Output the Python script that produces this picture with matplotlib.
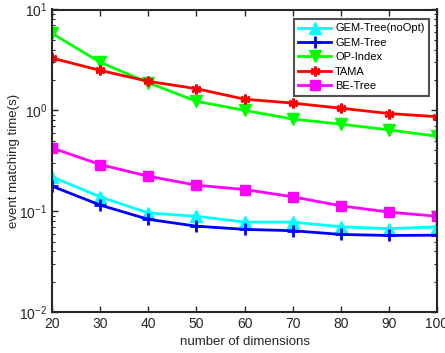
import matplotlib
matplotlib.use("Agg")
import matplotlib.pyplot as plt
from matplotlib.ticker import LogLocator, NullFormatter, FixedLocator

plt.rcParams['font.family'] = ['Liberation Sans', 'DejaVu Sans']
plt.rcParams['mathtext.fontset'] = 'custom'
plt.rcParams['mathtext.rm'] = 'Liberation Sans'
plt.rcParams['mathtext.it'] = 'Liberation Sans:italic'
plt.rcParams['mathtext.bf'] = 'Liberation Sans:bold'

dims = [20, 30, 40, 50, 60, 70, 80, 90, 100]
gem_noopt = [0.219, 0.139, 0.096, 0.089, 0.078, 0.078, 0.070, 0.067, 0.070]
gem_tree = [0.177, 0.115, 0.083, 0.071, 0.066, 0.064, 0.0588, 0.0574, 0.0578]
op_index = [5.8, 3.0, 1.88, 1.23, 1.0, 0.82, 0.73, 0.64, 0.553]
tama = [3.3, 2.49, 1.94, 1.64, 1.29, 1.18, 1.05, 0.93, 0.865]
be_tree = [0.424, 0.29, 0.222, 0.181, 0.164, 0.139, 0.113, 0.098, 0.089]

series = [
    ("GEM-Tree(noOpt)", gem_noopt, "#00ffff", "^", 9),
    ("GEM-Tree", gem_tree, "#0000ff", "+", 8),
    ("OP-Index", op_index, "#00ff00", "v", 9),
    ("TAMA", tama, "#ff0000", (6, 2, 0), 7),
    ("BE-Tree", be_tree, "#ff00ff", "s", 7),
]

fig = plt.figure(figsize=(4.45, 3.53), dpi=100)
ax = fig.add_axes([52/445, 1-312/353, (437-52)/445, (312-9.5)/353])

for name, vals, col, mk, ms in series:
    ax.plot(dims, vals, color=col, marker=mk, markersize=ms, linewidth=2,
            markeredgewidth=2 if mk in ("+", (6, 2, 0)) else 1, label=name)

ax.set_yscale('log')
ax.set_ylim(0.01, 10)
ax.set_xlim(20, 100)
ax.xaxis.set_major_locator(FixedLocator(dims))
ax.yaxis.set_major_locator(LogLocator(base=10, numticks=10))
ax.yaxis.set_minor_locator(LogLocator(base=10, subs=range(2, 10), numticks=20))
ax.yaxis.set_minor_formatter(NullFormatter())

ax.tick_params(which='both', direction='in', top=True, right=True, labelsize=10, colors='#262626')
ax.tick_params(which='major', length=4, width=1)
ax.tick_params(which='minor', length=2.5, width=0.8)
for sp in ax.spines.values():
    sp.set_linewidth(1.5)
    sp.set_color('#262626')

ax.set_xlabel("number of dimensions", fontsize=9.5, color='#262626', labelpad=4)
ax.set_ylabel("event matching time(s)", fontsize=9.5, color='#262626')
ax.yaxis.set_label_coords(-0.083, 0.5)

leg = ax.legend(loc='upper right', fontsize=8, frameon=True, fancybox=False,
                edgecolor='#262626', handlelength=2.9, borderpad=0.4,
                labelspacing=0.4, handletextpad=0.4, borderaxespad=0.0,
                bbox_to_anchor=((429-52)/385, (312-19)/302.5))
leg.get_frame().set_linewidth(1.5)

fig.savefig("out.png", dpi=100)
